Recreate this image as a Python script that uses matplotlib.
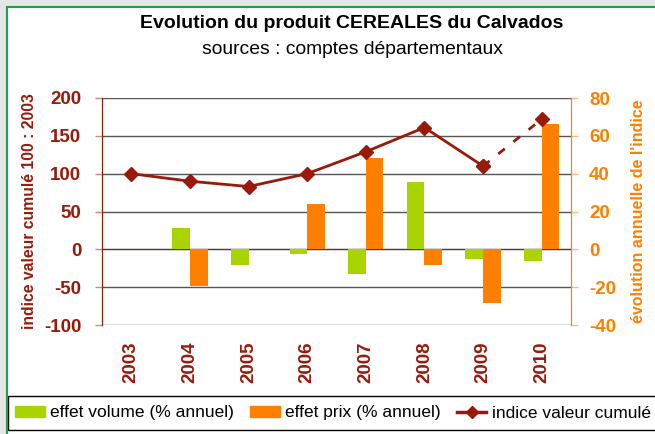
import matplotlib.pyplot as plt
from matplotlib.patches import Rectangle, Patch
from matplotlib.lines import Line2D
import numpy as np

plt.rcParams['font.family'] = ['Liberation Sans', 'DejaVu Sans']
plt.rcParams['axes.unicode_minus'] = False

years = ['2003', '2004', '2005', '2006', '2007', '2008', '2009', '2010']
effet_volume = [np.nan, 11.5, -8.3, -2.5, -13.1, 35.6, -5.1, -6.4]
effet_prix = [np.nan, -19.4, np.nan, 24.2, 48.3, -8.1, -28.5, 66.5]
indice_valeur = [100, 90, 83, 100, 129, 161, 110, 172]

GREEN = '#AAD400'
ORANGE = '#FF7F00'
DARKRED = '#991A0A'

def make_chart():
    fig = plt.figure(figsize=(6.55, 4.34), dpi=100)
    W, H = 655, 434

    # frame of the original chart object
    fig.add_artist(Rectangle((0, 1 - 7 / H), 1, 7 / H, transform=fig.transFigure,
                             facecolor='#E6E6E6', edgecolor='none'))
    fig.add_artist(Rectangle((0, 0), 7 / W, 1, transform=fig.transFigure,
                             facecolor='#E6E6E6', edgecolor='none'))
    fig.add_artist(Line2D([7 / W, 1], [1 - 7 / H, 1 - 7 / H], transform=fig.transFigure,
                          color='#1AA050', lw=1.5))
    fig.add_artist(Line2D([7 / W, 7 / W], [0, 1 - 7 / H], transform=fig.transFigure,
                          color='#1AA050', lw=1.5))

    ax = fig.add_axes([102 / W, 1 - 325 / H, (571 - 102) / W, (325 - 98) / H])
    ax2 = ax.twinx()

    x = np.arange(len(years))
    w = 0.3

    # bars on the percentage scale (right)
    ax.bar(x - w / 2, effet_volume, w, color=GREEN, zorder=2)
    ax.bar(x + w / 2, effet_prix, w, color=ORANGE, zorder=2)
    ax.set_ylim(-40, 80)
    ax.set_yticks(range(-40, 81, 20))
    ax.yaxis.tick_right()
    ax.yaxis.set_label_position('right')
    ax.grid(axis='y', color='#555555', lw=1)
    ax.set_axisbelow(True)
    ax.axhline(0, color=DARKRED, lw=0.8, zorder=1.5)
    ax.tick_params(axis='y', colors=ORANGE, labelsize=13.5, length=5, width=1, pad=8)
    ax.tick_params(axis='y', color='#FFBB77')
    for lab in ax.get_yticklabels():
        lab.set_fontweight('bold')
    ax.set_ylabel("évolution annuelle de l'indice", color=ORANGE, fontsize=11.5,
                  fontweight='bold', labelpad=11)

    # cumulated index on the left scale
    ax2.plot(x[:7], indice_valeur[:7], color=DARKRED, lw=2, marker='D', ms=7, zorder=3)
    ax2.plot(x[6:], indice_valeur[6:], color=DARKRED, lw=2, ls=(0, (3, 4)),
             marker='D', ms=7, zorder=3)
    ax2.set_ylim(-100, 200)
    ax2.set_yticks(range(-100, 201, 50))
    ax2.yaxis.tick_left()
    ax2.yaxis.set_label_position('left')
    ax2.tick_params(axis='y', colors=DARKRED, labelsize=13.5, length=5, width=1, pad=10)
    ax2.tick_params(axis='y', color='#CC8877')
    for lab in ax2.get_yticklabels():
        lab.set_fontweight('bold')
    ax2.set_ylabel('indice valeur cumulé 100 : 2003', color=DARKRED, fontsize=11.3,
                   fontweight='bold', labelpad=5)

    ax.set_xlim(-0.5, len(years) - 0.5)
    ax.set_xticks(x)
    ax.set_xticklabels(years, rotation=90, fontsize=13.5, fontweight='bold', color=DARKRED)
    ax.tick_params(axis='x', length=0, pad=12)

    for a in (ax, ax2):
        a.spines['top'].set_visible(False)
        a.spines['bottom'].set_visible(False)
    ax2.spines['left'].set_color(DARKRED)
    ax2.spines['right'].set_color(ORANGE)
    ax.spines['right'].set_color(ORANGE)
    ax.spines['left'].set_color(DARKRED)

    fig.text(352 / W, 1 - 23 / H, 'Evolution du produit CEREALES du Calvados',
             ha='center', va='center', fontsize=14, fontweight='bold')
    fig.text(352 / W, 1 - 49 / H, 'sources : comptes départementaux',
             ha='center', va='center', fontsize=13.9)

    # legend box along the bottom
    fig.add_artist(Rectangle((8 / W, 1 - 430 / H), 1, 34 / H, transform=fig.transFigure,
                             facecolor='white', edgecolor='black', lw=1))
    handles = [Patch(color=GREEN), Patch(color=ORANGE),
               Line2D([], [], color=DARKRED, lw=2.5, marker='D', ms=6)]
    labels = ['effet volume (% annuel)', 'effet prix (% annuel)', 'indice valeur cumulé']
    fig.legend(handles, labels, loc='center left', bbox_to_anchor=(15 / W, 1 - 413 / H),
               ncol=3, frameon=False, fontsize=12.5, handlelength=1.7, handleheight=0.6,
               handletextpad=0.3, columnspacing=0.95, borderaxespad=0, borderpad=0)

    fig.savefig('out.png', dpi=100)

if __name__ == "__main__":
    make_chart()
